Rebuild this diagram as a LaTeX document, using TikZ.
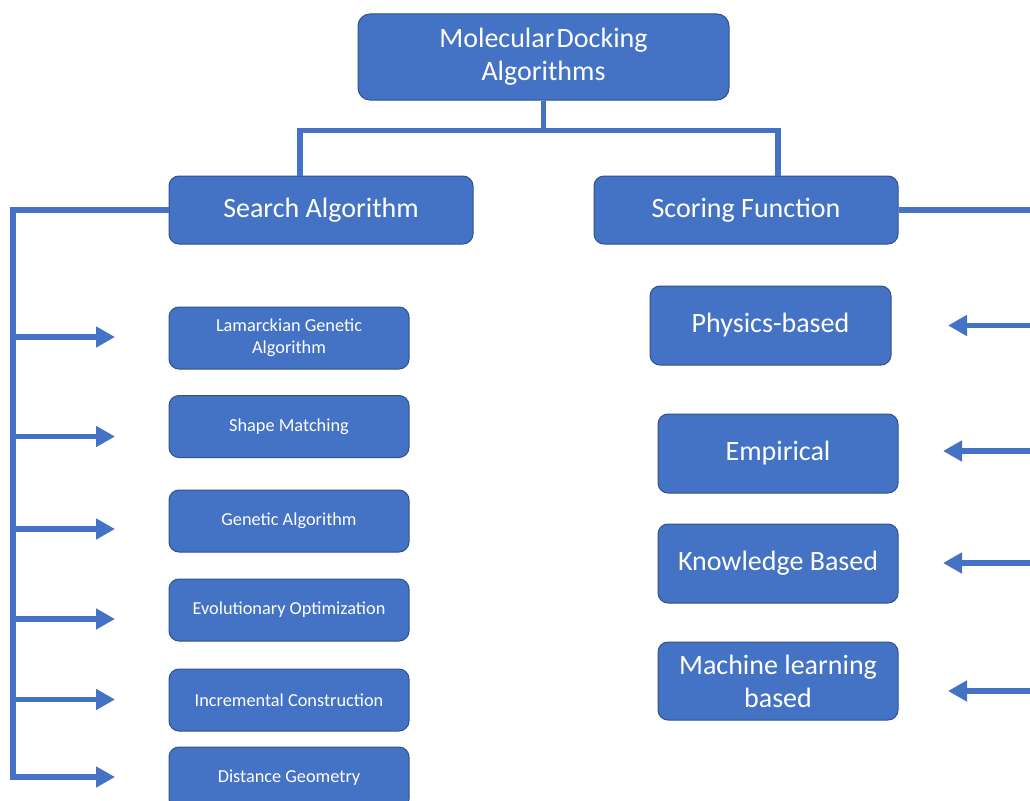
\documentclass[tikz,border=0pt]{standalone}
\usepackage{fontspec}
\setmainfont{Carlito}
\usetikzlibrary{arrows.meta}
\definecolor{boxfill}{HTML}{4472C4}
\definecolor{boxline}{HTML}{2F528F}
\definecolor{conn}{HTML}{4472C4}
\tikzset{
  box/.style={draw=boxline, fill=boxfill, line width=1pt, rounded corners=10pt,
    text=white, align=center, inner sep=0pt},
  bigtext/.style={font=\fontsize{28}{33}\selectfont},
  smalltext/.style={font=\fontsize{18.3}{22}\selectfont},
  link/.style={draw=conn, line width=5.5pt, line join=miter},
  arrowlink/.style={link, -{Triangle[length=19pt,width=20pt]}}
}
\begin{document}
\begin{tikzpicture}[x=1pt,y=-1pt]
\useasboundingbox (0,0) rectangle (1030,800);
\clip (0,0) rectangle (1030,800);
% top
\node[box, bigtext, rounded corners=12pt, minimum width=371pt, minimum height=86pt] (top) at (543.5,57) {Molecular\hspace{-0.15em} Docking\\Algorithms};
\node[box, bigtext, minimum width=304pt, minimum height=68pt] (search) at (321,210) {Search Algorithm};
\node[box, bigtext, minimum width=304pt, minimum height=68pt] (scoring) at (746,210) {Scoring Function};
% left boxes
\node[box, smalltext, minimum width=240pt, minimum height=62pt] (l1) at (289,338) {Lamarckian Genetic\\Algorithm};
\node[box, smalltext, minimum width=240pt, minimum height=62pt] (l2) at (289,426.5) {Shape Matching};
\node[box, smalltext, minimum width=240pt, minimum height=62pt] (l3) at (289,521) {Genetic Algorithm};
\node[box, smalltext, minimum width=240pt, minimum height=62pt] (l4) at (289,610) {Evolutionary Optimization};
\node[box, smalltext, minimum width=240pt, minimum height=62pt] (l5) at (289,700) {Incremental Construction};
\node[box, smalltext, minimum width=240pt, minimum height=62pt] (l6) at (289,778) {Distance Geometry};
% right boxes
\node[box, bigtext, minimum width=241pt, minimum height=79pt] (r1) at (770.5,325.5) {Physics-based};
\node[box, bigtext, minimum width=240pt, minimum height=79pt] (r2) at (778,453.5) {Empirical};
\node[box, bigtext, minimum width=240pt, minimum height=79pt] (r3) at (778,563.5) {Knowledge Based};
\node[box, bigtext, minimum width=240pt, minimum height=78pt] (r4) at (778,681) {Machine learning\\based};
% top connectors
\coordinate (j) at (543.5,131);
\draw[link] (top.south) -- (j);
\draw[link] ([xshift=-21pt]search.north) -- ++(0,-45) -- ([xshift=32pt,yshift=45pt]scoring.north) -- ([xshift=32pt]scoring.north);
% left trunk
\coordinate (lc) at (13,210);
\coordinate (lb) at (13,779.5);
\draw[link] (search.west) -- (lc) -- (lb);
\foreach \i/\y in {1/337,2/436.5,3/529,4/619,5/699.5,6/777}{
  \coordinate (ls\i) at (13,\y);
  \coordinate (le\i) at (115,\y);
  \draw[arrowlink] (ls\i) -- (le\i);
}
% right trunk
\coordinate (rc) at (1045,210);
\draw[link] (scoring.east) -- (rc);
\foreach \i/\y/\x in {1/325.5/948,2/451/943,3/563/943,4/691/948}{
  \coordinate (rs\i) at (1045,\y);
  \coordinate (re\i) at (\x,\y);
  \draw[arrowlink] (rs\i) -- (re\i);
}
\end{tikzpicture}
\end{document}
